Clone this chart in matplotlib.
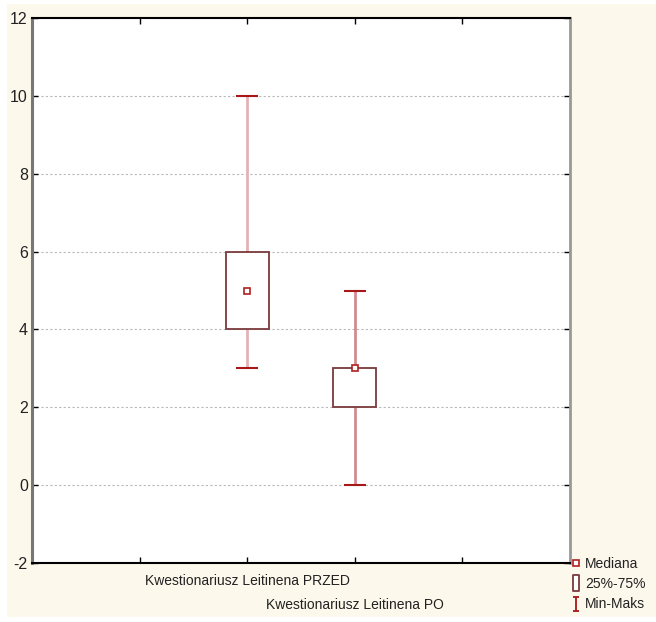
import matplotlib
matplotlib.use('Agg')
import matplotlib.pyplot as plt
from matplotlib.lines import Line2D
from matplotlib.patches import Rectangle
from matplotlib.path import Path

# box plot data
categories = ['Kwestionariusz Leitinena PRZED', 'Kwestionariusz Leitinena PO']
positions = [2, 3]
medians = [5, 3]
q1 = [4, 2]
q3 = [6, 3]
mins = [3, 0]
maxs = [10, 5]

y_ticks = [-2, 0, 2, 4, 6, 8, 10, 12]
legend_labels = ['Mediana', '25%-75%', 'Min-Maks']

plt.rcParams['font.family'] = ['Liberation Sans', 'DejaVu Sans']

fig = plt.figure(figsize=(6.56, 6.22), dpi=100, facecolor='white')
# cream panel behind the chart
fig.patches.append(Rectangle((7 / 656, 5 / 622), 1, 613 / 622, transform=fig.transFigure,
                             facecolor='#fdf8ec', edgecolor='none', zorder=-10))

ax = fig.add_axes([32 / 656, 59 / 622, 538 / 656, 545 / 622])
ax.set_facecolor('white')

box_w = 0.4
cap_w = 0.2
whisker_colors = ['#e2b3b6', '#d08c91']

for i, p in enumerate(positions):
    ax.vlines(p, mins[i], q1[i], color=whisker_colors[i], lw=2, zorder=2)
    ax.vlines(p, q3[i], maxs[i], color=whisker_colors[i], lw=2, zorder=2)
    ax.hlines([mins[i], maxs[i]], p - cap_w / 2, p + cap_w / 2, color='#a81818', lw=1.5, zorder=3)

ax.bar(positions, [b - a for a, b in zip(q1, q3)], bottom=q1, width=box_w,
       facecolor='none', edgecolor='#7a3a3c', lw=1.3, zorder=3)
ax.plot(positions, medians, 's', ms=4.5, mfc='white', mec='#b02020', mew=1.2, zorder=4, ls='none')

ax.set_xlim(0, 5)
ax.set_ylim(-2, 12)
ax.set_yticks(y_ticks)
ax.set_yticklabels([str(v) for v in y_ticks], fontsize=11.5, color='#222222')
# first category on a major tick, second one staggered lower on a minor tick
ax.set_xticks([1, 2, 4])
ax.set_xticklabels(['', categories[0], ''], fontsize=10, color='#222222')
ax.set_xticks([3], minor=True)
ax.set_xticklabels([categories[1]], minor=True, fontsize=10, color='#222222')
ax.tick_params(axis='both', which='both', direction='in', length=4, width=1, color='black',
               top=True, right=True)
ax.tick_params(axis='y', pad=3)
ax.tick_params(axis='x', which='major', pad=8)
ax.tick_params(axis='x', which='minor', pad=25)

ax.grid(axis='y', color='#b8b8b8', ls=(0, (2, 2)), lw=0.8)
ax.set_axisbelow(True)

for side in ['top', 'bottom']:
    ax.spines[side].set_color('black')
    ax.spines[side].set_linewidth(1.5)
ax.spines['left'].set_color('#777777')
ax.spines['left'].set_linewidth(2.2)
ax.spines['right'].set_color('#999999')
ax.spines['right'].set_linewidth(2)

# legend markers
ibeam = Path([(-0.5, 1), (0.5, 1), (0, 1), (0, -1), (-0.5, -1), (0.5, -1)],
             [Path.MOVETO, Path.LINETO, Path.MOVETO, Path.LINETO, Path.MOVETO, Path.LINETO])
tall_box = Path([(-0.45, -1), (0.45, -1), (0.45, 1), (-0.45, 1), (-0.45, -1)],
                [Path.MOVETO, Path.LINETO, Path.LINETO, Path.LINETO, Path.CLOSEPOLY])
handles = [
    Line2D([], [], ls='none', marker='s', ms=4.5, mfc='white', mec='#b02020', mew=1.2),
    Line2D([], [], ls='none', marker=tall_box, ms=11, mfc='white', mec='#7a3a3c', mew=1.3),
    Line2D([], [], ls='none', marker=ibeam, ms=10, mfc='none', mec='#a81818', mew=1.3),
]
leg = fig.legend(handles, legend_labels, loc='upper left', bbox_to_anchor=(572 / 656, 1 - 557 / 622),
                 frameon=False, fontsize=10, handlelength=0.6, handletextpad=0.35,
                 labelspacing=0.45, borderpad=0, borderaxespad=0)
for t in leg.get_texts():
    t.set_color('#222222')

fig.savefig('out.png', dpi=100, facecolor=fig.get_facecolor())
